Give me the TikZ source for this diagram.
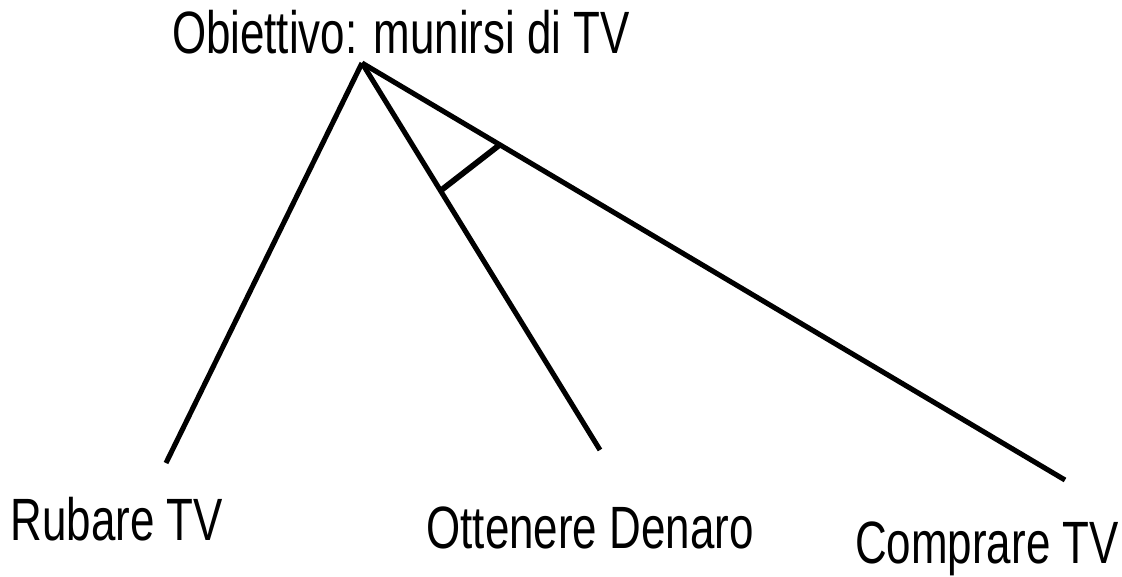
\documentclass[tikz,border=0pt]{standalone}
\usepackage{fontspec}
\setmainfont{Liberation Sans}[FakeStretch=0.735]
\usetikzlibrary{calc}
\begin{document}
\begin{tikzpicture}[x=0.02cm, y=-0.02cm,
    label/.style={anchor=base, inner sep=0pt, font=\fontsize{34}{36}\selectfont},
    branch/.style={line width=2.9pt}]
    \useasboundingbox (0,0) rectangle (1122,576);

    % 目标
    \node[label] (goal) at (401,53) {Obiettivo: munirsi di TV};
    \coordinate (apex) at (362,63);

    % 子目标
    \node[label] (steal) at (117,540) {Rubare TV};
    \node[label] (money) at (590,548) {Ottenere Denaro};
    \node[label] (buy) at (987,563) {Comprare TV};

    % 分支端点
    \coordinate (stealend) at (166,463);
    \coordinate (moneyend) at (600,450);
    \coordinate (buyend) at (1065,480);

    % 分支
    \draw[branch] (apex) -- (stealend);
    \draw[branch] (apex) -- (moneyend);
    \draw[branch] (apex) -- (buyend);

    % AND 连接
    \draw[branch, line width=3.3pt] ($(apex)!0.33!(moneyend)$) -- ($(apex)!0.196!(buyend)$);
\end{tikzpicture}
\end{document}
